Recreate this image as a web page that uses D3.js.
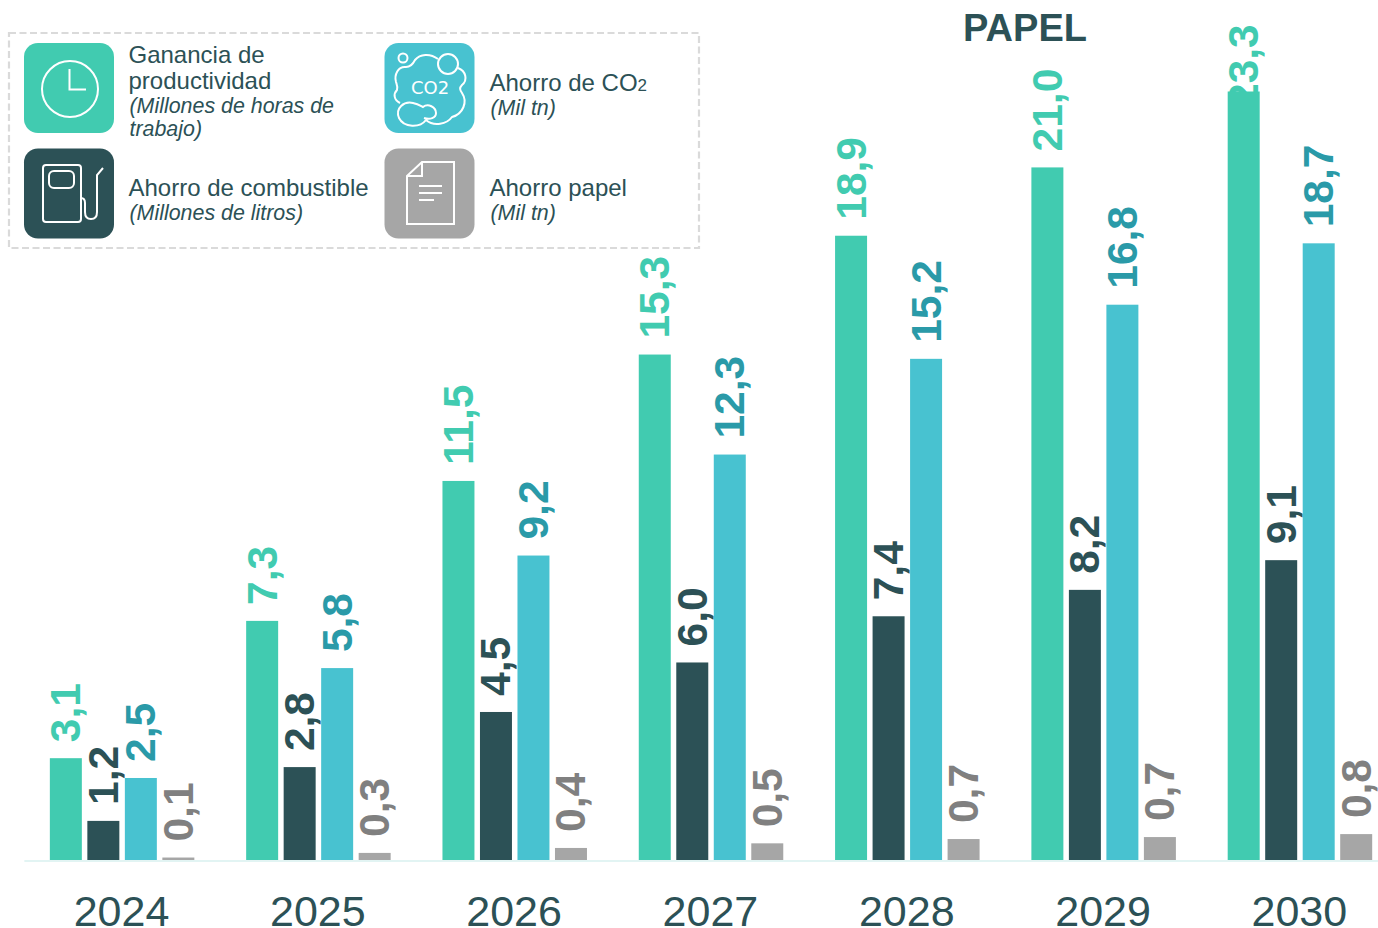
<!DOCTYPE html>
<html>
<head>
<meta charset="utf-8">
<script src="https://cdn.jsdelivr.net/npm/d3@7"></script>
<style>
  html, body { margin: 0; padding: 0; background: #fff; }
  text { font-family: "Liberation Sans", Arial, sans-serif; }
</style>
</head>
<body>
<div id="chart"></div>
<script>
// data
var years = ["2024", "2025", "2026", "2027", "2028", "2029", "2030"]
var seriesNames = ["productividad", "combustible", "co2", "papel"]

var productividad = [3.1, 7.26, 11.5, 15.33, 18.93, 21.0, 23.3]
var combustible = [1.2, 2.83, 4.5, 6.0, 7.4, 8.2, 9.1]
var co2 = [2.5, 5.83, 9.24, 12.3, 15.2, 16.84, 18.7]
// the paper bars are drawn a bit shorter than their printed labels
var papel = [0.09, 0.23, 0.38, 0.52, 0.65, 0.71, 0.8]
var papelLabels = [0.1, 0.3, 0.4, 0.5, 0.7, 0.7, 0.8]

var barColors = ["#41cbb0", "#2c5156", "#48c2d0", "#a6a6a6"]
var labelColors = ["#41cbb0", "#2c5156", "#2a9aa8", "#808080"]
var textColor = "#2c5156"

var width = 1378
    height = 928

var svg = d3.select("#chart")
  .append("svg")
    .attr("width", width)
    .attr("height", height)
    .style("display", "block")

// scales
var x = d3.scaleBand()
  .domain(years)
  .range([23.85, 1398])

var xInner = d3.scaleBand()
  .domain(seriesNames)
  .range([26, 170.5])
  .paddingInner(0.147)

var y = d3.scaleLinear()
  .domain([0, 23.3])
  .range([860.5, 91.5])

var seriesValues = [productividad, combustible, co2, papel]
var seriesLabels = [productividad, combustible, co2, papelLabels]
var fmt = function(v) { return d3.format(".1f")(v).replace(".", ",") }

// flat list of marks
var marks = []
seriesNames.forEach(function(s, i) {
  years.forEach(function(yr, j) {
    marks.push({year: yr, series: s, idx: i, value: seriesValues[i][j], label: seriesLabels[i][j]})
  })
})

// labels go first, the tall 2030 bar covers part of its label
svg.selectAll("text.val")
  .data(marks)
  .enter()
  .append("text")
    .attr("class", "val")
    .text(function(d) { return fmt(d.label) })
    .attr("fill", function(d) { return labelColors[d.idx] })
    .attr("font-size", 42.5)
    .attr("font-weight", "bold")
    .attr("transform", function(d) {
      var px = x(d.year) + xInner(d.series) + xInner.bandwidth() - 1.5
      // label can't go higher than this, it slides down behind the bar
      var py = Math.max(y(d.value) - 16, 107)
      return "translate(" + px + "," + py + ") rotate(-90)"
    })

svg.selectAll("rect.bar")
  .data(marks)
  .enter()
  .append("rect")
    .attr("class", "bar")
    .attr("x", function(d) { return x(d.year) + xInner(d.series) })
    .attr("y", function(d) { return y(d.value) })
    .attr("width", xInner.bandwidth())
    .attr("height", function(d) { return y(0) - y(d.value) })
    .attr("fill", function(d) { return barColors[d.idx] })

// x axis
var axis = svg.append("g")
  .attr("transform", "translate(0," + y(0) + ")")
  .call(d3.axisBottom(x).tickSize(0).tickPadding(35))
axis.select(".domain").attr("stroke", "#e2f4f3").attr("stroke-width", 2)
axis.selectAll("text")
  .attr("fill", textColor)
  .attr("dx", -0.5)
  .style("font-family", '"Liberation Sans", Arial, sans-serif')
  .attr("font-size", 43)

svg.append("text")
  .text("PAPEL")
  .attr("x", 1025)
  .attr("y", 41)
  .attr("text-anchor", "middle")
  .attr("font-size", 38)
  .attr("font-weight", "bold")
  .attr("fill", textColor)

// legend
svg.append("rect")
  .attr("x", 9).attr("y", 33)
  .attr("width", 690).attr("height", 215)
  .attr("fill", "none")
  .attr("stroke", "#dadada")
  .attr("stroke-width", 2.2)
  .attr("stroke-dasharray", "7 3.5")

var legendX = [24, 384.5, 24, 384.5]
var legendY = [43, 43, 148.5, 148.5]
var legendColors = ["#41cbb0", "#48c2d0", "#2c5156", "#a6a6a6"]

legendX.forEach(function(lx, i) {
  svg.append("rect")
    .attr("x", lx).attr("y", legendY[i])
    .attr("width", 90).attr("height", 90)
    .attr("rx", 14)
    .attr("fill", legendColors[i])
})

var icon = svg.append("g")
  .attr("fill", "none")
  .attr("stroke", "#fff")
  .attr("stroke-width", 2)

// clock
icon.append("circle").attr("cx", 70).attr("cy", 89).attr("r", 28)
icon.append("path").attr("d", "M69.5 69V89.5H86")

// fuel pump
icon.append("rect").attr("x", 43).attr("y", 165).attr("width", 38).attr("height", 57).attr("rx", 3)
icon.append("rect").attr("x", 49).attr("y", 171).attr("width", 25).attr("height", 17).attr("rx", 5)
icon.append("path").attr("d", "M103 168L97 175V212Q97 219 91 219Q85 219 85 212V203Q85 198 81 198")

// co2 cloud
icon.append("circle").attr("cx", 403).attr("cy", 58).attr("r", 4.5)
icon.append("circle").attr("cx", 448).attr("cy", 64).attr("r", 10)
icon.append("path").attr("d", "M438 59C430 53 420 54 415 60C413 64 410 67 406 67C398 66 394 75 396 82C397 85 398 87 397 90C393 94 394 100 400 103"
  + "M458 68C466 71 468 80 462 85C459 88 460 90 462 93C468 102 463 114 452 117C447 124 434 127 426 120"
  + "M426 120C420 128 404 128 399 118C395 108 404 101 413 103C418 104 421 106 423 107C428 103 436 107 436 113C436 118 430 120 424 118")
icon.append("text")
  .text("CO2")
  .attr("x", 430).attr("y", 94)
  .attr("text-anchor", "middle")
  .attr("font-size", 18)
  .attr("fill", "#fff")
  .attr("stroke", "none")
  .style("font-family", '"DejaVu Sans", sans-serif')

// paper sheet
icon.append("path").attr("d", "M407 176L422 162H454V224H407ZM422 162V176H407")
icon.append("path").attr("d", "M419 186H442M419 193H442M419 200H434")

// legend text
var legendNames = [["Ganancia de", "productividad"], ["Ahorro de CO"], ["Ahorro de combustible"], ["Ahorro papel"]]
var legendUnits = [["(Millones de horas de", "trabajo)"], ["(Mil tn)"], ["(Millones de litros)"], ["(Mil tn)"]]
var textX = [128.5, 489.5, 128.5, 489.5]
var nameY = [62.5, 91, 196, 196]

legendNames.forEach(function(lines, i) {
  var yy = nameY[i]
  lines.forEach(function(line, k) {
    var t = svg.append("text")
      .text(line)
      .attr("x", textX[i])
      .attr("y", yy + k * 26.5)
      .attr("font-size", 24)
      .attr("fill", textColor)
    if (i == 1) t.append("tspan").text("2").attr("font-size", 17)
  })
  var uy = yy + (lines.length - 1) * 26.5 + 23.5
  legendUnits[i].forEach(function(line, k) {
    svg.append("text")
      .text(line)
      .attr("x", textX[i] + 1)
      .attr("y", uy + k * 23)
      .attr("font-size", 21.4)
      .attr("font-style", "italic")
      .attr("fill", textColor)
  })
})
</script>
</body>
</html>
